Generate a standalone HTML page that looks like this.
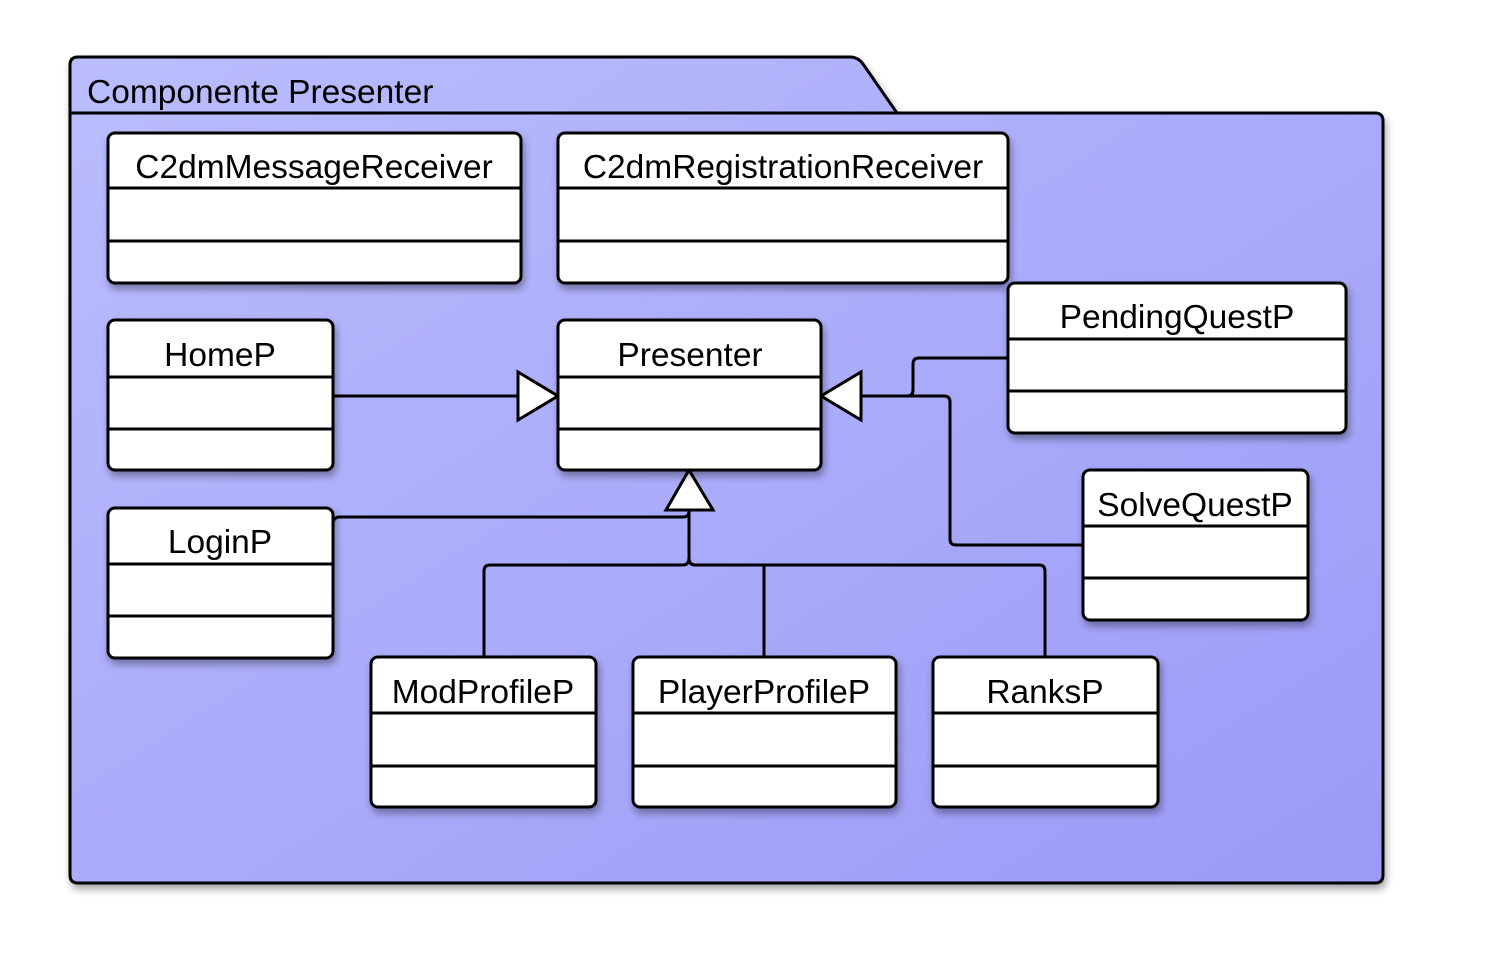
<!DOCTYPE html>
<html><head><meta charset="utf-8"><style>
html,body{margin:0;padding:0;background:#fff;width:1493px;height:953px;overflow:hidden}
text{font-family:"Liberation Sans",sans-serif;font-size:33.5px;fill:#000}
</style></head><body>
<svg width="1493" height="953" viewBox="0 0 1493 953" xmlns="http://www.w3.org/2000/svg">
<defs>
<linearGradient id="g" x1="0" y1="0" x2="1" y2="1">
<stop offset="0" stop-color="#babdfd"/><stop offset="1" stop-color="#9b9af7"/>
</linearGradient>
<filter id="sh" x="-10%" y="-10%" width="130%" height="130%">
<feGaussianBlur in="SourceAlpha" stdDeviation="4"/><feOffset dx="2" dy="5"/>
<feComponentTransfer><feFuncA type="linear" slope="0.35"/></feComponentTransfer>
<feMerge><feMergeNode/><feMergeNode in="SourceGraphic"/></feMerge>
</filter>
</defs>
<g filter="url(#sh)">
<path d="M78,57 L850,57 Q858,57 863,64 L897,113 L1375,113 Q1383,113 1383,121 L1383,875 Q1383,883 1375,883 L78,883 Q70,883 70,875 L70,65 Q70,57 78,57 Z" fill="url(#g)" stroke="#000" stroke-width="3"/>
</g>
<line x1="70" y1="113" x2="897" y2="113" stroke="#000" stroke-width="3"/>
<text x="87" y="103">Componente Presenter</text>

<g fill="none" stroke="#000" stroke-width="3">
<line x1="333" y1="396" x2="518" y2="396"/>
<path d="M861,396 L907,396 Q913,396 913,390 L913,364 Q913,358 919,358 L1008,358"/>
<path d="M861,396 L944,396 Q950,396 950,402 L950,539 Q950,545 956,545 L1083,545"/>
<path d="M333,524 Q333,517 340,517 L683,517 Q689,517 689,511"/>
<line x1="689" y1="510" x2="689" y2="558"/>
<path d="M484,657 L484,571 Q484,565 490,565 L683,565 Q689,565 689,558 Q689,565 695,565 L1039,565 Q1045,565 1045,571 L1045,657"/>
<path d="M764,565 L764,657"/>
</g>
<g fill="#fff" stroke="#000" stroke-width="3">
<polygon points="518,372 558,396 518,420"/>
<polygon points="861,372 821,396 861,420"/>
<polygon points="666,510 689,470 713,510"/>
</g>

<g stroke="#000" stroke-width="3">
<g filter="url(#sh)">
<rect x="108" y="133" width="413" height="150" rx="7" fill="#fff"/>
<rect x="558" y="133" width="450" height="150" rx="7" fill="#fff"/>
<rect x="108" y="320" width="225" height="150" rx="7" fill="#fff"/>
<rect x="558" y="320" width="263" height="150" rx="7" fill="#fff"/>
<rect x="1008" y="283" width="338" height="150" rx="7" fill="#fff"/>
<rect x="1083" y="470" width="225" height="150" rx="7" fill="#fff"/>
<rect x="108" y="508" width="225" height="150" rx="7" fill="#fff"/>
<rect x="371" y="657" width="225" height="150" rx="7" fill="#fff"/>
<rect x="633" y="657" width="263" height="150" rx="7" fill="#fff"/>
<rect x="933" y="657" width="225" height="150" rx="7" fill="#fff"/>
</g>
<line x1="108" y1="188" x2="521" y2="188"/><line x1="108" y1="241" x2="521" y2="241"/>
<line x1="558" y1="188" x2="1008" y2="188"/><line x1="558" y1="241" x2="1008" y2="241"/>
<line x1="108" y1="377" x2="333" y2="377"/><line x1="108" y1="429" x2="333" y2="429"/>
<line x1="558" y1="377" x2="821" y2="377"/><line x1="558" y1="429" x2="821" y2="429"/>
<line x1="1008" y1="339" x2="1346" y2="339"/><line x1="1008" y1="391" x2="1346" y2="391"/>
<line x1="1083" y1="526" x2="1308" y2="526"/><line x1="1083" y1="578" x2="1308" y2="578"/>
<line x1="108" y1="564" x2="333" y2="564"/><line x1="108" y1="616" x2="333" y2="616"/>
<line x1="371" y1="713" x2="596" y2="713"/><line x1="371" y1="766" x2="596" y2="766"/>
<line x1="633" y1="713" x2="896" y2="713"/><line x1="633" y1="766" x2="896" y2="766"/>
<line x1="933" y1="713" x2="1158" y2="713"/><line x1="933" y1="766" x2="1158" y2="766"/>
</g>
<g text-anchor="middle">
<text x="314" y="178">C2dmMessageReceiver</text>
<text x="783" y="178">C2dmRegistrationReceiver</text>
<text x="220" y="366">HomeP</text>
<text x="690" y="366">Presenter</text>
<text x="1177" y="328">PendingQuestP</text>
<text x="1195" y="516">SolveQuestP</text>
<text x="220" y="553">LoginP</text>
<text x="483" y="703">ModProfileP</text>
<text x="764" y="703">PlayerProfileP</text>
<text x="1045" y="703">RanksP</text>
</g>
</svg>
</body></html>
